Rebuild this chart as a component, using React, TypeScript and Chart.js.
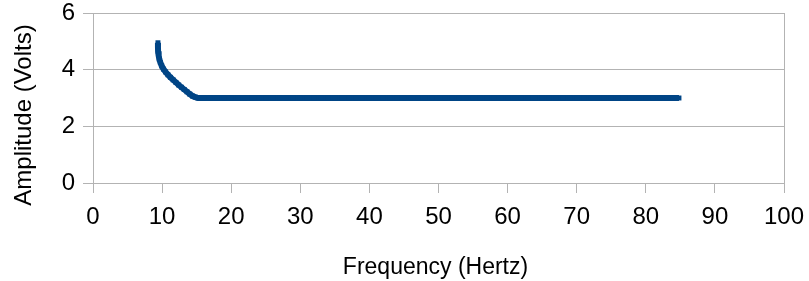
import React, { useEffect, useRef } from "react";
import { Chart, registerables } from "chart.js";

Chart.register(...registerables);

const frequencyHz: number[] = [
  9.4, 9.4, 9.42, 9.5, 9.6, 9.75, 9.95, 10.2, 10.5, 10.85, 11.2, 11.6, 12.0, 12.4, 12.8,
  13.2, 13.6, 14.0, 14.4, 14.8, 15.2, 16, 17, 18, 19, 20, 21, 22, 23, 24, 25, 26, 27, 28,
  29, 30, 31, 32, 33, 34, 35, 36, 37, 38, 39, 40, 41, 42, 43, 44, 45, 46, 47, 48, 49, 50,
  51, 52, 53, 54, 55, 56, 57, 58, 59, 60, 61, 62, 63, 64, 65, 66, 67, 68, 69, 70, 71, 72,
  73, 74, 75, 76, 77, 78, 79, 80, 81, 82, 83, 84, 84.8,
];

const amplitudeV: number[] = [
  4.95, 4.8, 4.65, 4.5, 4.37, 4.25, 4.13, 4.02, 3.92, 3.82, 3.73, 3.64, 3.55, 3.46, 3.38,
  3.3, 3.22, 3.14, 3.07, 3.03, 3.0, 3.0, 3.0, 3.0, 3.0, 3.0, 3.0, 3.0, 3.0, 3.0, 3.0, 3.0,
  3.0, 3.0, 3.0, 3.0, 3.0, 3.0, 3.0, 3.0, 3.0, 3.0, 3.0, 3.0, 3.0, 3.0, 3.0, 3.0, 3.0, 3.0,
  3.0, 3.0, 3.0, 3.0, 3.0, 3.0, 3.0, 3.0, 3.0, 3.0, 3.0, 3.0, 3.0, 3.0, 3.0, 3.0, 3.0, 3.0,
  3.0, 3.0, 3.0, 3.0, 3.0, 3.0, 3.0, 3.0, 3.0, 3.0, 3.0, 3.0, 3.0, 3.0, 3.0, 3.0, 3.0, 3.0,
  3.0, 3.0, 3.0, 3.0, 3.0,
];

const xTitle = "Frequency (Hertz)";
const yTitle = "Amplitude (Volts)";

const GRID = "#b3b3b3";
const SERIES = "#004586";
const FONT = "'Liberation Sans', Arial, sans-serif";

const decorations = {
  id: "decorations",
  afterDraw(chart: any) {
    const { ctx, chartArea } = chart;
    ctx.save();
    // right frame line
    ctx.strokeStyle = GRID;
    ctx.lineWidth = 1;
    ctx.beginPath();
    const x = Math.round(chartArea.right) + 0.5;
    ctx.moveTo(x, chartArea.top);
    ctx.lineTo(x, chartArea.bottom + 10);
    ctx.stroke();
    // axis titles
    ctx.fillStyle = "#000";
    ctx.font = `23px ${FONT}`;
    ctx.textAlign = "center";
    ctx.textBaseline = "alphabetic";
    ctx.fillText(xTitle, (chartArea.left + chartArea.right) / 2 - 3, 274);
    ctx.translate(31, 115);
    ctx.rotate(-Math.PI / 2);
    ctx.font = `24px ${FONT}`;
    ctx.fillText(yTitle, 0, 0);
    ctx.restore();
  },
};

export default function App() {
  const ref = useRef<HTMLCanvasElement | null>(null);
  useEffect(() => {
    if (!ref.current) return;
    const data = frequencyHz.map((f, i) => ({ x: f, y: amplitudeV[i] }));
    const chart = new Chart(ref.current, {
      type: "scatter",
      data: {
        datasets: [
          {
            data,
            showLine: true,
            borderColor: SERIES,
            borderWidth: 6,
            backgroundColor: SERIES,
            pointStyle: "rect",
            pointRadius: 3.5,
            pointBorderWidth: 0,
            pointBackgroundColor: SERIES,
          },
        ],
      },
      options: {
        animation: false,
        responsive: true,
        maintainAspectRatio: false,
        layout: { padding: { top: 13, right: 25, left: 0, bottom: 0 } },
        plugins: { legend: { display: false }, tooltip: { enabled: false } },
        scales: {
          x: {
            type: "linear",
            min: 0,
            max: 100,
            ticks: {
              stepSize: 10,
              color: "#000",
              font: { family: FONT, size: 24 },
              padding: 10,
              maxRotation: 0,
            },
            grid: { drawOnChartArea: false, drawTicks: true, tickLength: 10, color: GRID },
            border: { color: GRID },
            title: { display: false, text: xTitle },
            afterFit(scale: any) {
              scale.height = 98;
              scale.paddingLeft = 0;
              scale.paddingRight = 0;
            },
          },
          y: {
            type: "linear",
            min: 0,
            max: 6,
            ticks: {
              stepSize: 2,
              color: "#000",
              font: { family: FONT, size: 24 },
              padding: 8,
            },
            grid: { drawTicks: true, tickLength: 10, color: GRID },
            border: { color: GRID },
            title: { display: false, text: yTitle },
            afterFit(scale: any) {
              scale.width = 93;
              scale.paddingTop = 0;
              scale.paddingBottom = 0;
            },
          },
        },
      },
      plugins: [decorations],
    });
    return () => chart.destroy();
  }, []);
  return (
    <div style={{ position: "absolute", left: 0, top: 0, width: 809, height: 281 }}>
      <canvas ref={ref} />
    </div>
  );
}
